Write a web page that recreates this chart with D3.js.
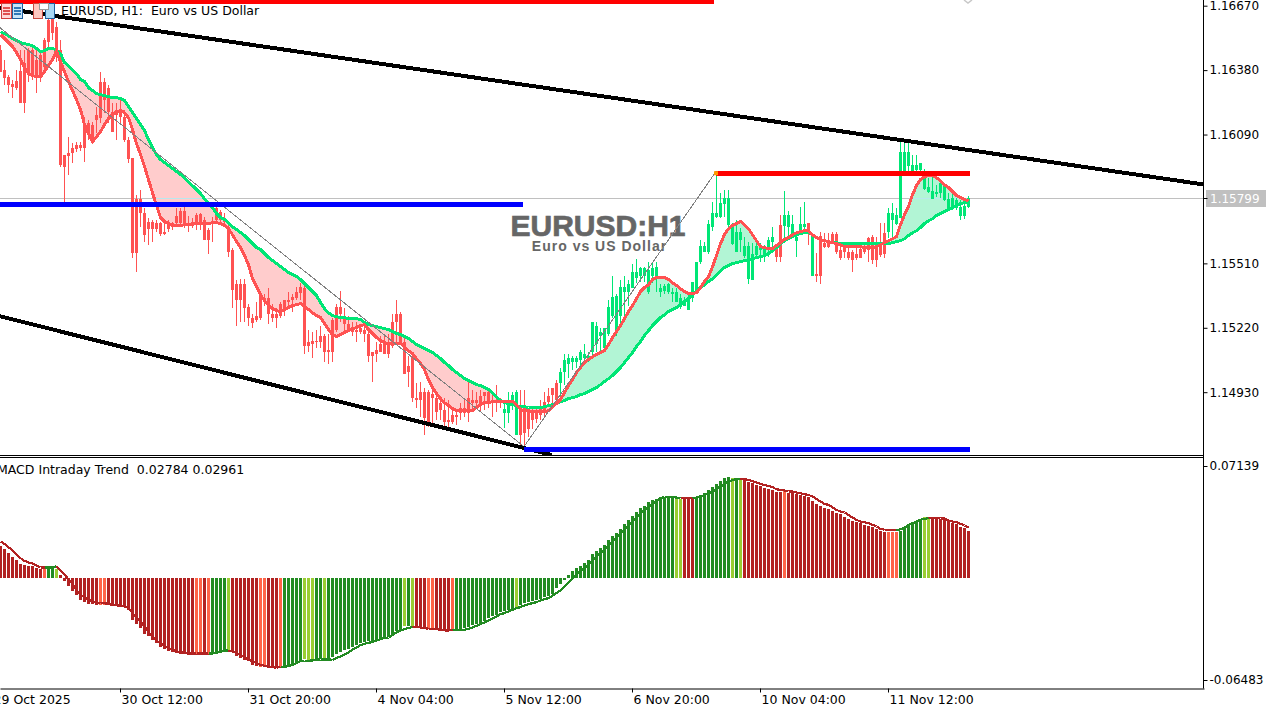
<!DOCTYPE html>
<html>
<head>
<meta charset="utf-8">
<script src="https://cdnjs.cloudflare.com/ajax/libs/d3/7.8.5/d3.min.js"></script>
<style>
  html, body { margin: 0; padding: 0; background: #fff; overflow: hidden; }
  text { font-family: "DejaVu Sans", sans-serif; font-size: 12.5px; fill: #000; }
</style>
</head>
<body>
<script>
// prices are in points (1e-5), one value per H1 bar
var candleOpen = [
116472,116382,116351,116319,116333,116378,116414,116472,116472,116427,
116450,116517,116607,116616,116576,116472,116000,116009,116031,116045,
116045,116143,116143,116134,116179,116328,116328,116301,116193,116202,
116202,116170,116067,115986,115801,115801,115738,115698,115698,115693,
115693,115653,115693,115693,115725,115747,115747,115693,115693,115729,
115734,115707,115662,115698,115761,115743,115716,115675,115572,115415,
115415,115415,115315,115266,115271,115365,115356,115352,115280,115280,
115325,115343,115347,115360,115383,115405,115401,115154,115162,115162,
115181,115181,115118,115257,115315,115315,115271,115239,115212,115212,
115221,115212,115194,115109,115118,115145,115154,115145,115244,115280,
115280,115158,115050,115091,114906,114933,114933,114929,114924,114906,
114883,114852,114807,114829,114829,114861,114861,114906,114897,114897,
114911,114929,114929,114897,114892,114888,114838,114838,114879,114739,
114865,114861,114843,114838,114838,114865,114888,114911,114951,114973,
114973,115019,115059,115064,115068,115077,115086,115077,115113,115145,
115181,115131,115190,115271,115199,115271,115383,115383,115401,115446,
115451,115451,115379,115451,115451,115383,115387,115383,115370,115338,
115315,115320,115302,115356,115392,115514,115559,115559,115675,115720,
115720,115779,115684,115599,115563,115617,115541,115441,115437,115549,
115572,115549,115572,115608,115581,115684,115680,115675,115630,115612,
115653,115675,115693,115455,115464,115631,115603,115617,115644,115644,
115572,115581,115563,115559,115554,115576,115581,115626,115630,115603,
115603,115648,115653,115707,115689,115716,115918,115950,115928,115932,
115932,115847,115833,115801,115824,115828,115797,115752,115761,115761,
115725,115725,115765];
var candleClose = [
116373,116346,116315,116306,116301,116234,116234,116373,116360,116346,
116346,116395,116508,116549,116463,115955,115946,115995,116009,116027,
116031,116031,116098,116067,116157,116166,116247,116193,116103,116179,
116170,116067,115981,115558,115558,115738,115639,115666,115666,115666,
115644,115644,115666,115675,115693,115693,115680,115684,115680,115693,
115693,115617,115617,115693,115707,115707,115698,115563,115392,115343,
115343,115311,115266,115243,115253,115262,115338,115280,115266,115266,
115271,115311,115334,115343,115356,115378,115136,115136,115149,115154,
115154,115113,115109,115113,115212,115280,115235,115212,115199,115199,
115203,115190,115091,115091,115104,115113,115104,115100,115136,115244,
115158,115014,115019,114906,114897,114897,114816,114798,114906,114843,
114852,114798,114798,114798,114820,114838,114838,114838,114883,114883,
114874,114911,114883,114883,114883,114883,114856,114897,114919,114929,
114739,114748,114766,114807,114811,114829,114852,114888,114919,114897,
115023,115077,115082,115082,115086,115109,115100,115091,115244,115226,
115199,115221,115315,115360,115365,115405,115405,115415,115473,115473,
115487,115491,115482,115491,115495,115401,115410,115415,115383,115383,
115356,115338,115360,115428,115514,115586,115590,115685,115738,115738,
115783,115806,115806,115680,115653,115653,115586,115586,115554,115590,
115586,115586,115617,115630,115540,115540,115729,115729,115689,115630,
115689,115689,115648,115635,115451,115451,115585,115585,115608,115559,
115536,115563,115536,115527,115536,115536,115559,115572,115523,115523,
115549,115554,115738,115738,115729,116013,116013,116013,115955,115955,
115964,115923,115856,115837,115833,115873,115864,115801,115806,115797,
115765,115770,115806];
var candleHigh = [
116495,116427,116360,116337,116382,116472,116472,116481,116481,116472,
116472,116526,116661,116675,116598,116517,116000,116080,116053,116058,
116058,116170,116157,116148,116215,116373,116346,116315,116233,116233,
116247,116202,116080,115986,115819,115842,115761,115716,115707,115707,
115698,115693,115707,115698,115761,115761,115765,115725,115716,115738,
115738,115720,115671,115720,115774,115752,115738,115698,115581,115437,
115441,115441,115325,115280,115334,115370,115374,115401,115325,115311,
115338,115347,115383,115370,115405,115423,115423,115212,115203,115212,
115226,115190,115190,115266,115325,115387,115311,115271,115244,115248,
115235,115230,115212,115109,115158,115181,115190,115190,115280,115347,
115293,115181,115091,115109,114973,114978,114951,114942,114951,114929,
114911,114906,114897,114852,114852,114883,114897,114987,114942,114933,
114942,114933,114951,114919,114964,114906,114888,114929,114933,114942,
114942,114942,114861,114865,114865,114897,114929,114951,114951,114987,
115041,115100,115100,115095,115091,115118,115145,115113,115244,115244,
115221,115221,115347,115451,115370,115437,115451,115437,115505,115531,
115495,115495,115514,115514,115518,115415,115415,115423,115401,115401,
115370,115360,115370,115428,115518,115617,115608,115707,115788,115923,
115828,115842,115842,115693,115707,115671,115630,115608,115603,115617,
115603,115594,115630,115675,115594,115729,115837,115747,115729,115639,
115765,115788,115693,115635,115558,115653,115648,115648,115653,115653,
115608,115608,115585,115572,115603,115603,115603,115630,115639,115630,
115693,115693,115761,115783,115761,116058,116053,116053,116000,116000,
115964,115937,115896,115901,115865,115878,115864,115828,115828,115806,
115797,115779,115815];
var candleLow = [
116373,116315,116279,116256,116292,116234,116189,116328,116337,116279,
116328,116373,116472,116517,116418,115946,115783,115910,115963,116013,
116017,115968,116067,116058,116098,116143,116188,116143,116103,116067,
116143,116058,115963,115536,115473,115675,115608,115594,115608,115653,
115635,115639,115653,115662,115675,115675,115671,115653,115671,115662,
115662,115617,115554,115608,115698,115693,115675,115540,115311,115226,
115248,115248,115226,115221,115248,115257,115316,115235,115244,115221,
115266,115271,115316,115289,115347,115347,115100,115113,115086,115131,
115131,115064,115059,115064,115199,115244,115203,115199,115181,115158,
115190,115158,115064,114978,115064,115109,115100,115086,115131,115145,
115145,115010,114955,114888,114861,114820,114739,114775,114793,114807,
114807,114771,114762,114789,114784,114807,114820,114798,114843,114861,
114843,114852,114861,114820,114843,114861,114771,114793,114852,114739,
114685,114672,114730,114766,114793,114807,114816,114865,114861,114874,
114883,114964,114996,115032,115041,115041,115064,115064,115091,115109,
115113,115113,115181,115266,115181,115235,115271,115316,115401,115423,
115428,115428,115374,115423,115383,115360,115370,115370,115338,115334,
115306,115316,115298,115338,115383,115505,115559,115554,115657,115716,
115716,115720,115675,115594,115559,115559,115536,115419,115437,115545,
115518,115514,115540,115572,115518,115518,115626,115617,115626,115540,
115648,115648,115594,115455,115428,115415,115581,115581,115603,115554,
115523,115536,115523,115473,115523,115536,115554,115518,115505,115495,
115540,115536,115626,115630,115684,115716,115918,115923,115923,115928,
115923,115842,115829,115801,115811,115806,115792,115747,115752,115752,
115707,115711,115761];

// fast and slow moving averages, filled between
var maFast = [
116540,116522,116504,116486,116459,116427,116391,116364,116355,116350,
116350,116373,116400,116427,116468,116418,116373,116328,116288,116247,
116202,116135,116094,116058,116080,116103,116135,116162,116180,116193,
116198,116188,116166,116112,116049,116000,115946,115887,115828,115770,
115716,115698,115689,115684,115680,115680,115684,115684,115689,115689,
115689,115689,115689,115693,115693,115689,115680,115666,115639,115608,
115581,115545,115504,115441,115405,115369,115342,115320,115306,115297,
115293,115302,115311,115320,115324,115329,115315,115302,115288,115275,
115266,115239,115212,115189,115180,115189,115198,115207,115216,115221,
115230,115234,115212,115194,115176,115162,115153,115149,115149,115149,
115149,115135,115117,115104,115081,115059,115032,114987,114951,114924,
114901,114883,114870,114856,114847,114847,114847,114847,114847,114861,
114874,114883,114883,114888,114888,114888,114888,114888,114888,114874,
114852,114847,114847,114843,114843,114843,114843,114847,114865,114879,
114897,114928,114960,114987,115018,115041,115063,115077,115090,115099,
115108,115117,115144,115176,115203,115230,115261,115293,115320,115351,
115383,115401,115414,115437,115446,115446,115446,115437,115423,115410,
115396,115383,115374,115374,115378,115401,115428,115450,115495,115545,
115599,115639,115666,115680,115689,115698,115684,115666,115639,115612,
115585,115581,115576,115576,115590,115603,115617,115626,115639,115648,
115653,115657,115657,115639,115626,115617,115612,115608,115603,115599,
115594,115585,115585,115585,115585,115585,115581,115581,115581,115585,
115594,115603,115612,115621,115630,115684,115729,115765,115819,115860,
115887,115900,115905,115905,115896,115882,115864,115851,115833,115815,
115806,115797,115792];
var maSlow = [
116553,116544,116535,116522,116513,116504,116499,116495,116490,116477,
116463,116468,116477,116477,116472,116454,116414,116400,116382,116364,
116337,116328,116301,116288,116274,116270,116265,116261,116256,116256,
116252,116243,116216,116189,116162,116135,116108,116067,116031,116000,
115977,115964,115950,115937,115923,115910,115896,115878,115860,115842,
115824,115801,115779,115761,115734,115716,115707,115693,115675,115662,
115649,115635,115617,115599,115581,115572,115554,115536,115523,115509,
115496,115482,115469,115460,115451,115437,115419,115401,115383,115365,
115334,115306,115288,115275,115270,115266,115266,115261,115261,115261,
115257,115243,115234,115230,115225,115221,115216,115212,115203,115194,
115190,115181,115172,115158,115145,115136,115127,115118,115109,115095,
115082,115064,115050,115032,115019,115005,114991,114982,114973,114964,
114960,114951,114942,114928,114910,114892,114883,114879,114874,114870,
114865,114865,114861,114861,114861,114861,114865,114870,114874,114879,
114888,114892,114901,114906,114910,114919,114924,114933,114942,114951,
114964,114978,114991,115005,115023,115041,115064,115086,115109,115136,
115158,115185,115207,115230,115248,115266,115279,115293,115302,115311,
115325,115338,115351,115370,115383,115401,115414,115428,115441,115459,
115477,115491,115500,115509,115513,115518,115522,115527,115531,115536,
115540,115545,115554,115567,115581,115599,115612,115621,115630,115639,
115644,115648,115648,115639,115626,115617,115612,115608,115603,115603,
115599,115599,115599,115599,115599,115599,115599,115599,115599,115599,
115599,115599,115599,115603,115608,115612,115621,115635,115648,115657,
115671,115689,115702,115711,115725,115734,115743,115752,115761,115770,
115779,115783,115788];

// MACD pane, same 1e-5 units
var macdHist = [
2056,1844,1632,1378,1166,912,848,784,742,636,
572,572,700,700,572,212,-212,-530,-848,-1102,
-1378,-1526,-1632,-1675,-1717,-1717,-1717,-1717,-1738,-1760,
-1760,-1844,-2014,-2650,-2904,-3180,-3540,-3710,-3964,-4134,
-4410,-4516,-4622,-4706,-4770,-4812,-4834,-4876,-4876,-4876,
-4876,-4876,-4876,-4834,-4770,-4706,-4600,-4600,-4685,-4982,
-5067,-5194,-5300,-5512,-5618,-5660,-5660,-5724,-5724,-5724,
-5660,-5618,-5576,-5448,-5364,-5194,-5130,-5194,-5215,-5194,
-5130,-5130,-5130,-5024,-4812,-4728,-4600,-4494,-4388,-4261,
-4134,-4092,-4028,-4028,-3922,-3858,-3816,-3752,-3562,-3392,
-3286,-3074,-3074,-3032,-3074,-3116,-3244,-3201,-3244,-3286,
-3328,-3350,-3350,-3350,-3286,-3244,-3180,-3138,-3010,-2926,
-2862,-2756,-2544,-2438,-2332,-2184,-2120,-2056,-1950,-1866,
-1696,-1590,-1526,-1484,-1420,-1314,-1208,-1124,-996,-636,
-360,-148,212,424,636,784,954,1166,1548,1760,
1908,2120,2438,2692,2904,3138,3456,3710,3986,4240,
4452,4622,4834,4982,5024,5088,5130,5152,5236,5067,
5067,5067,5067,5067,5152,5300,5406,5618,5788,6000,
6190,6402,6466,6360,6318,6254,6254,6148,6042,5936,
5872,5745,5703,5618,5491,5470,5576,5448,5406,5342,
5300,5236,5152,4940,4706,4622,4494,4410,4304,4176,
4070,3922,3795,3668,3562,3498,3392,3328,3244,3116,
3032,2968,2968,2968,2968,3032,3244,3392,3540,3604,
3710,3880,3816,3816,3752,3752,3710,3646,3540,3456,
3286,3180,3032];
var macdLine = [
2332,2184,1972,1760,1526,1272,1102,996,933,806,
678,678,678,678,763,488,212,-64,-360,-742,
-1060,-1208,-1378,-1484,-1548,-1590,-1590,-1654,-1696,-1738,
-1738,-1802,-1908,-2226,-2480,-2756,-3074,-3434,-3710,-3986,
-4134,-4304,-4452,-4558,-4664,-4706,-4770,-4770,-4812,-4791,
-4791,-4812,-4791,-4791,-4749,-4685,-4622,-4600,-4664,-4770,
-4876,-5024,-5194,-5300,-5406,-5512,-5576,-5618,-5660,-5703,
-5639,-5639,-5597,-5512,-5406,-5279,-5258,-5258,-5236,-5194,
-5173,-5173,-5173,-5194,-5088,-4982,-4855,-4728,-4558,-4410,
-4261,-4176,-4113,-4070,-3964,-3880,-3816,-3774,-3625,-3456,
-3328,-3244,-3180,-3116,-3074,-3138,-3180,-3222,-3222,-3244,
-3286,-3328,-3328,-3307,-3286,-3286,-3286,-3222,-3138,-3032,
-2926,-2820,-2692,-2565,-2438,-2290,-2226,-2120,-2014,-1908,
-1844,-1738,-1654,-1590,-1526,-1420,-1336,-1272,-1124,-954,
-784,-530,-254,0,254,424,636,848,1124,1378,
1590,1802,2056,2332,2565,2820,3116,3350,3604,3880,
4134,4346,4558,4728,4876,5109,5152,5152,5152,5130,
5109,5109,5109,5109,5130,5194,5300,5406,5512,5682,
5830,6000,6148,6254,6318,6339,6296,6254,6190,6084,
6000,5936,5872,5788,5660,5618,5576,5512,5512,5448,
5406,5342,5300,5194,5046,4876,4728,4664,4516,4346,
4240,4176,4028,3858,3710,3604,3562,3498,3392,3286,
3138,3074,3074,3074,3032,3116,3222,3392,3498,3604,
3710,3774,3816,3858,3816,3795,3795,3668,3604,3562,
3456,3350,3222];
// 0 falling red, 1 tomato, 2 rising green, 3 yellowgreen
var macdState = [
0,0,0,0,0,0,0,0,0,0,
0,1,2,2,3,0,0,0,0,0,
0,0,0,0,0,1,1,0,0,0,
0,0,0,0,0,0,0,0,0,0,
0,0,0,0,0,0,0,0,0,1,
1,0,1,2,2,2,2,3,0,0,
0,0,0,0,0,1,1,0,0,0,
1,2,2,2,2,2,3,3,3,2,
2,3,2,2,2,2,2,2,2,2,
2,2,2,2,2,2,2,2,2,2,
2,3,2,3,0,0,0,1,1,0,
0,0,0,1,2,2,2,2,2,2,
2,2,2,2,2,2,2,2,2,3,
2,2,2,2,2,2,2,2,2,2,
2,2,2,2,2,2,2,2,2,2,
2,2,2,2,2,2,2,2,2,2,
2,2,2,2,2,2,2,2,2,3,
3,0,0,0,2,2,2,2,2,2,
2,2,2,3,2,3,0,0,0,0,
0,0,0,0,0,0,1,0,0,0,
0,0,0,0,0,0,0,0,0,0,
0,0,0,0,0,0,0,0,0,0,
0,0,1,1,1,2,2,2,2,2,
2,3,3,0,0,0,0,0,0,0,
0,0,0];
var macdColors = ["#b22222", "#ff6347", "#228b22", "#9acd32"];

var priceTicks = [1.1667, 1.1638, 1.1609, 1.1551, 1.1522, 1.1493];
var macdTicks = [0.07139, -0.06483];
var lastPrice = 1.15799;
var timeTicks = [-2, 30, 62, 94, 126, 158, 190, 222];
var timeLabels = ["29 Oct 2025", "30 Oct 12:00", "31 Oct 20:00", "4 Nov 04:00",
  "5 Nov 12:00", "6 Nov 20:00", "10 Nov 04:00", "11 Nov 12:00"];

// drawn objects as [bar, price in points]
var channelUpper = [[0, 116660], [301, 115865]];
var channelLower = [[0, 115272], [138, 114647]];
var zigzag = [[0, 116571], [131, 114685], [179, 115923]];
var levelsRed = [[[0, 116690], [178.5, 116690]], [[179, 115916], [242.5, 115916]]];
var levelsBlue = [[[0, 115773], [130.7, 115773]], [[131, 114674], [242.5, 114674]]];

var width = 1279, height = 706;
var axisX = 1203.5, mainBottom = 455, subTop = 458, subBottom = 688;

var svg = d3.select("body").append("svg")
  .attr("width", width)
  .attr("height", height)
  .style("display", "block");

var defs = svg.append("defs");
defs.append("clipPath").attr("id", "clipMain").append("rect")
  .attr("width", axisX).attr("height", mainBottom);
defs.append("clipPath").attr("id", "clipSub").append("rect")
  .attr("y", subTop).attr("width", axisX).attr("height", subBottom - subTop);

// one bar every 4px
var x = d3.scaleLinear().domain([0, 301]).range([0, 1204]);
var y = d3.scaleLinear().domain([1.1667, 1.1493]).range([5.7, 392.2]);
var yMacd = d3.scaleLinear().domain(macdTicks).range([466, 680]);
function py(pts) { return y(pts / 1e5); }
function my(pts) { return yMacd(pts / 1e5); }

var main = svg.append("g").attr("clip-path", "url(#clipMain)");
var bars = d3.range(candleOpen.length);
var lastRow = Math.floor(y(lastPrice)) - 1;

// cloud between the averages
main.append("g").attr("shape-rendering", "crispEdges")
  .selectAll("path")
  .data(bars.slice(0, -1))
  .enter().append("path")
  .attr("fill", function(i) { return maFast[i + 1] < maSlow[i + 1] ? "#ffcccc" : "#b2f5d5"; })
  .attr("d", function(i) {
    return d3.area()
      .x(function(j) { return x(j) + 0.5; })
      .y0(function(j) { return py(maFast[j]); })
      .y1(function(j) { return py(maSlow[j]); })([i, i + 1]);
  });

// last price line, tinted where it runs through the cloud
main.append("rect")
  .attr("x", 0).attr("y", lastRow)
  .attr("width", axisX).attr("height", 1)
  .attr("fill", "#c0c0c0");
main.selectAll(".cloudLine")
  .data(bars.filter(function(i) {
    var p = lastPrice * 1e5;
    return (maFast[i] - p) * (maSlow[i] - p) < 0;
  }))
  .enter().append("rect")
  .attr("x", function(i) { return x(i); })
  .attr("y", lastRow)
  .attr("width", 4).attr("height", 1)
  .attr("fill", "#b8e8ee");

// watermark
main.append("text")
  .attr("x", 598).attr("y", 236)
  .attr("text-anchor", "middle")
  .style("font-family", "'Liberation Sans', sans-serif")
  .style("font-weight", "bold").style("font-size", "30px")
  .style("fill", "#666666").style("stroke", "#666666").style("stroke-width", 0.7)
  .text("EURUSD:H1");
main.append("text")
  .attr("x", 599.5).attr("y", 250.5)
  .attr("text-anchor", "middle")
  .style("font-family", "'Liberation Sans', sans-serif")
  .style("font-weight", "bold").style("font-size", "14px")
  .style("letter-spacing", "1px")
  .style("fill", "#666666")
  .text("Euro vs US Dollar");

// candles
function candleColor(i) { return candleClose[i] >= candleOpen[i] ? "#00e676" : "#ff5252"; }
var candles = main.append("g").attr("shape-rendering", "crispEdges");
candles.selectAll(".wick")
  .data(bars)
  .enter().append("rect")
  .attr("x", function(i) { return x(i); })
  .attr("y", function(i) { return py(candleHigh[i]); })
  .attr("width", 1)
  .attr("height", function(i) { return py(candleLow[i]) - py(candleHigh[i]); })
  .attr("fill", candleColor);
candles.selectAll(".body")
  .data(bars)
  .enter().append("rect")
  .attr("x", function(i) { return x(i) - 1; })
  .attr("y", function(i) { return py(Math.max(candleOpen[i], candleClose[i])); })
  .attr("width", 3)
  .attr("height", function(i) {
    return Math.max(1, Math.abs(py(candleOpen[i]) - py(candleClose[i])));
  })
  .attr("fill", candleColor);

// averages
var lines = main.append("g").attr("shape-rendering", "crispEdges");
var maLine = d3.line()
  .x(function(d, i) { return x(i) + 0.5; })
  .y(function(d) { return py(d); });
lines.append("path").attr("d", maLine(maSlow))
  .attr("fill", "none").attr("stroke", "#00e676").attr("stroke-width", 3);
lines.append("path").attr("d", maLine(maFast))
  .attr("fill", "none").attr("stroke", "#ff5252").attr("stroke-width", 3);

// drawn objects
var objLine = d3.line()
  .x(function(d) { return x(d[0]); })
  .y(function(d) { return py(d[1]); });
lines.append("path").attr("d", objLine(zigzag))
  .attr("fill", "none").attr("stroke", "#808080").attr("stroke-width", 1);
[channelUpper, channelLower].forEach(function(c) {
  lines.append("path").attr("d", objLine(c))
    .attr("fill", "none").attr("stroke", "#000").attr("stroke-width", 4);
});
levelsRed.forEach(function(c) {
  lines.append("path").attr("d", objLine(c))
    .attr("fill", "none").attr("stroke", "#ff0000").attr("stroke-width", 5);
});
levelsBlue.forEach(function(c) {
  lines.append("path").attr("d", objLine(c))
    .attr("fill", "none").attr("stroke", "#0000ff").attr("stroke-width", 5);
});
main.append("rect")
  .attr("x", x(179) - 2).attr("y", py(115916) - 2)
  .attr("width", 4).attr("height", 4).attr("fill", "#ff9900");
main.append("path")
  .attr("d", "M964,0L968,3L972,0")
  .attr("fill", "none").attr("stroke", "#c8c8c8").attr("stroke-width", 1.5);

// chart menu icons in the corner
var icons = svg.append("g").attr("shape-rendering", "crispEdges");
[[1, 3, 10, 15, "#ffd8d8", "#d04040"], [12, 3, 10, 15, "#c8e4f8", "#1f5f9f"],
 [33, 3, 9, 15, "#ffc8c0", "#c84a40"], [45, 3, 9, 15, "#a8d8f4", "#1f5f9f"]].forEach(function(r) {
  icons.append("rect")
    .attr("x", r[0] + 0.5).attr("y", r[1] + 0.5)
    .attr("width", r[2]).attr("height", r[3])
    .attr("fill", r[4]).attr("stroke", r[5]);
});
[7, 10, 13].forEach(function(v) {
  icons.append("rect").attr("x", 3).attr("y", v).attr("width", 7).attr("height", 2).attr("fill", "#e05050");
  icons.append("rect").attr("x", 14).attr("y", v).attr("width", 7).attr("height", 2).attr("fill", "#2f78b8");
});
icons.append("rect").attr("x", 39).attr("y", 3).attr("width", 9).attr("height", 6)
  .attr("fill", "#fff").attr("stroke", "#999");

svg.append("text")
  .attr("x", 61).attr("y", 15)
  .attr("xml:space", "preserve")
  .text("EURUSD, H1:  Euro vs US Dollar");

// MACD pane
var sub = svg.append("g").attr("clip-path", "url(#clipSub)");
sub.append("g").attr("shape-rendering", "crispEdges")
  .selectAll("rect")
  .data(bars)
  .enter().append("rect")
  .attr("x", function(i) { return x(i) - 1; })
  .attr("y", function(i) { return Math.min(my(macdHist[i]), my(0)); })
  .attr("width", 3)
  .attr("height", function(i) { return Math.abs(my(macdHist[i]) - my(0)); })
  .attr("fill", function(i) { return macdColors[macdState[i]]; });
sub.append("g").attr("shape-rendering", "crispEdges")
  .selectAll("path")
  .data(bars.slice(0, -1))
  .enter().append("path")
  .attr("fill", "none")
  .attr("stroke-width", 2.2)
  .attr("stroke", function(i) { return macdState[i + 1] < 2 ? "#b22222" : "#228b22"; })
  .attr("d", function(i) {
    return "M" + (x(i) + 0.5) + "," + my(macdLine[i]) + "L" + (x(i + 1) + 0.5) + "," + my(macdLine[i + 1]);
  });
svg.append("text")
  .attr("x", -3).attr("y", 474)
  .attr("xml:space", "preserve")
  .text("MACD Intraday Trend  0.02784 0.02961");

// frame and axes
[mainBottom + 0.5, mainBottom + 2.5].forEach(function(v) {
  svg.append("line").attr("x1", 0).attr("x2", axisX).attr("y1", v).attr("y2", v).attr("stroke", "#000");
});
svg.append("line").attr("x1", axisX).attr("x2", axisX).attr("y1", 0).attr("y2", subBottom + 0.5).attr("stroke", "#000");

var priceAxis = svg.append("g")
  .attr("transform", "translate(" + axisX + ",0)")
  .call(d3.axisRight(y).tickValues(priceTicks).tickFormat(d3.format(".5f")).tickSize(4).tickPadding(2));
var macdAxis = svg.append("g")
  .attr("transform", "translate(" + axisX + ",0)")
  .call(d3.axisRight(yMacd).tickValues(macdTicks)
    .tickFormat(function(d) { return d.toFixed(5); })
    .tickSize(4).tickPadding(2));
var timeAxis = svg.append("g")
  .attr("transform", "translate(0," + (subBottom + 0.5) + ")")
  .call(d3.axisBottom(x).tickValues(timeTicks)
    .tickFormat(function(d, i) { return timeLabels[i]; })
    .tickSize(4).tickSizeOuter(0));
timeAxis.selectAll("text").attr("text-anchor", "start").attr("dx", 1).attr("y", 7);
[priceAxis, macdAxis].forEach(function(a) {
  a.select(".domain").remove();
  a.selectAll("text").style("font-size", "12px");
});
svg.selectAll(".tick text").style("font-family", "'DejaVu Sans', sans-serif");
timeAxis.selectAll("text").style("font-size", "12.5px");

// last price tag
svg.append("rect")
  .attr("x", 1206).attr("y", lastRow - 8)
  .attr("width", 60).attr("height", 17)
  .attr("fill", "#c0c0c0");
svg.append("text")
  .attr("x", 1210).attr("y", lastRow + 5)
  .style("fill", "#fff").style("font-size", "12px")
  .text(lastPrice.toFixed(5));
svg.append("rect")
  .attr("x", axisX).attr("y", lastRow)
  .attr("width", 4).attr("height", 1)
  .attr("fill", "#000");
</script>
</body>
</html>
